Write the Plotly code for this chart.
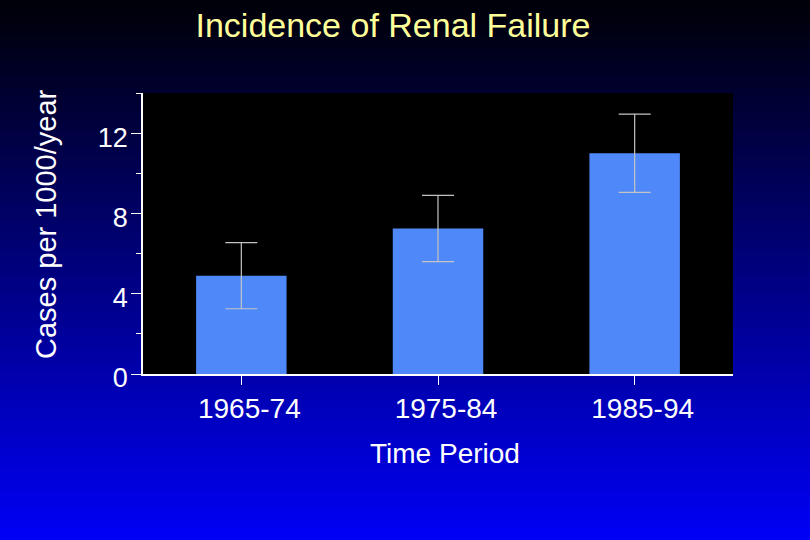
import plotly.graph_objects as go

periods = ["1965-74", "1975-84", "1985-94"]
cases = [4.9, 7.25, 11.0]
err = [1.65, 1.65, 1.95]

W, H = 810, 540
x0, x1 = 143, 733
y0, y1 = 93, 374

fig = go.Figure()
fig.add_trace(go.Bar(
    x=periods, y=cases, width=0.46,
    marker=dict(color="#4f88f8", line=dict(width=0)),
    error_y=dict(type="data", array=err, visible=True, color="#c4c4c4", thickness=1.2, width=16),
))

# background gradient
shapes = []
n = 90
for i in range(n):
    t = i / (n - 1)
    b = int(8 + (245 - 8) * t)
    shapes.append(dict(type="rect", xref="paper", yref="paper", x0=0, x1=1,
                       y0=1 - (i + 1) / n - 0.002, y1=1 - i / n + 0.002,
                       fillcolor=f"rgb(0,0,{b})", line=dict(width=0), layer="below"))
shapes.append(dict(type="rect", xref="paper", yref="paper",
                   x0=x0 / W, x1=x1 / W, y0=1 - y1 / H, y1=1 - y0 / H,
                   fillcolor="black", line=dict(width=0), layer="below"))

font = "Liberation Sans, Arial, sans-serif"
fig.update_layout(
    width=W, height=H,
    margin=dict(l=0, r=0, t=0, b=0, autoexpand=False),
    paper_bgcolor="#0000f5", plot_bgcolor="black",
    shapes=shapes,
    showlegend=False,
    title=dict(text="Incidence of Renal Failure", x=393 / W, y=1 - 25 / H,
               xanchor="center", yanchor="middle",
               font=dict(family=font, size=34, color="#ffff99")),
    xaxis=dict(domain=[x0 / W, x1 / W], range=[-0.5, 2.5], automargin=False,
               showline=True, linecolor="white", linewidth=1.5,
               ticks="outside", ticklen=9, tickcolor="white", tickwidth=1,
               ticklabelshift=8,
               tickfont=dict(family=font, size=28, color="white"),
               showgrid=False, zeroline=False),
    yaxis=dict(domain=[1 - y1 / H, 1 - y0 / H], range=[0, 14], automargin=False,
               tickvals=[0, 4, 8, 12],
               showline=True, linecolor="white", linewidth=1.5,
               ticks="outside", ticklen=10, tickcolor="white", tickwidth=1,
               ticklabelshift=4, ticklabelstandoff=-2,
               minor=dict(tickvals=[2, 6, 10, 14], ticklen=5, tickcolor="white", ticks="outside", showgrid=False),
               tickfont=dict(family=font, size=27, color="white"),
               showgrid=False, zeroline=False),
    annotations=[
        dict(text="Time Period", xref="paper", yref="paper", x=445 / W, y=1 - 453 / H,
             xanchor="center", yanchor="middle", showarrow=False,
             font=dict(family=font, size=28, color="white")),
        dict(text="Cases per 1000/year", xref="paper", yref="paper", x=46 / W, y=1 - 224 / H,
             xanchor="center", yanchor="middle", showarrow=False, textangle=-90,
             font=dict(family=font, size=29, color="white")),
    ],
)

fig.write_html("out.html")
